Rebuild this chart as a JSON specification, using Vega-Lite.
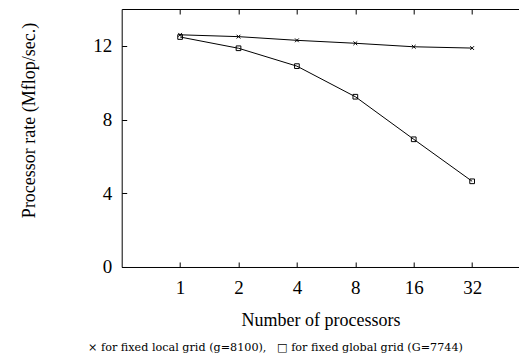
{
  "$schema": "https://vega.github.io/schema/vega-lite/v6.json",
  "width": 397.6,
  "height": 258,
  "autosize": {"type": "none"},
  "padding": {"left": 121.7, "top": 9, "right": 0, "bottom": 86},
  "background": "white",
  "config": {
    "view": {"stroke": null},
    "font": "Liberation Serif",
    "axis": {
      "grid": false,
      "domainColor": "black",
      "domainWidth": 1,
      "ticks": true,
      "tickColor": "black",
      "tickWidth": 1,
      "tickOpacity": 1,
      "tickSize": -5,
      "labelColor": "black",
      "labelFont": "Liberation Serif",
      "labelFontSize": 19,
      "titleFont": "Liberation Serif",
      "titleFontSize": 18,
      "titleFontWeight": "normal",
      "titleColor": "black"
    }
  },
  "data": {
    "values": [
      {"n": 1, "rate": 12.6, "series": "local"},
      {"n": 2, "rate": 12.5, "series": "local"},
      {"n": 4, "rate": 12.3, "series": "local"},
      {"n": 8, "rate": 12.14, "series": "local"},
      {"n": 16, "rate": 11.95, "series": "local"},
      {"n": 32, "rate": 11.88, "series": "local"},
      {"n": 1, "rate": 12.48, "series": "global"},
      {"n": 2, "rate": 11.87, "series": "global"},
      {"n": 4, "rate": 10.9, "series": "global"},
      {"n": 8, "rate": 9.24, "series": "global"},
      {"n": 16, "rate": 6.93, "series": "global"},
      {"n": 32, "rate": 4.65, "series": "global"}
    ]
  },
  "title": {
    "text": "× for fixed local grid (g=8100),\u00a0\u00a0\u00a0□ for fixed global grid (G=7744)",
    "orient": "bottom",
    "anchor": "middle",
    "frame": "group",
    "dx": -45,
    "offset": 12,
    "font": "DejaVu Serif",
    "fontSize": 11.2,
    "fontWeight": "normal",
    "color": "black"
  },
  "layer": [
    {
      "mark": {"type": "line", "color": "black", "strokeWidth": 1},
      "encoding": {
        "x": {
          "field": "n", "type": "quantitative",
          "scale": {"type": "log", "base": 2, "domain": [0.5, 56], "nice": false},
          "axis": {"orient": "bottom", "values": [1, 2, 4, 8, 16, 32], "format": "d", "labelPadding": 17, "title": "Number of processors", "titlePadding": 14, "labelFlush": false}
        },
        "y": {
          "field": "rate", "type": "quantitative",
          "scale": {"domain": [0, 14], "nice": false, "zero": true},
          "axis": {"values": [0, 4, 8, 12], "labelPadding": 15, "title": "Processor rate (Mflop/sec.)", "titlePadding": 54, "titleY": 111}
        },
        "detail": {"field": "series"}
      }
    },
    {
      "mark": {"type": "point", "color": "black", "filled": false, "strokeWidth": 1, "size": 22, "opacity": 1},
      "encoding": {
        "x": {"field": "n", "type": "quantitative", "axis": null},
        "y": {"field": "rate", "type": "quantitative"},
        "shape": {
          "field": "series", "type": "nominal",
          "scale": {"domain": ["local", "global"], "range": ["M-0.8,-0.8L0.8,0.8M-0.8,0.8L0.8,-0.8", "square"]},
          "legend": null
        }
      }
    },
    {
      "mark": {"type": "point", "opacity": 0},
      "encoding": {
        "x": {
          "field": "n", "type": "quantitative",
          "axis": {"orient": "top", "values": [1, 2, 4, 8, 16, 32], "labels": false, "title": null}
        },
        "y": {"field": "rate", "type": "quantitative"}
      }
    }
  ],
  "resolve": {"axis": {"x": "independent"}}
}
